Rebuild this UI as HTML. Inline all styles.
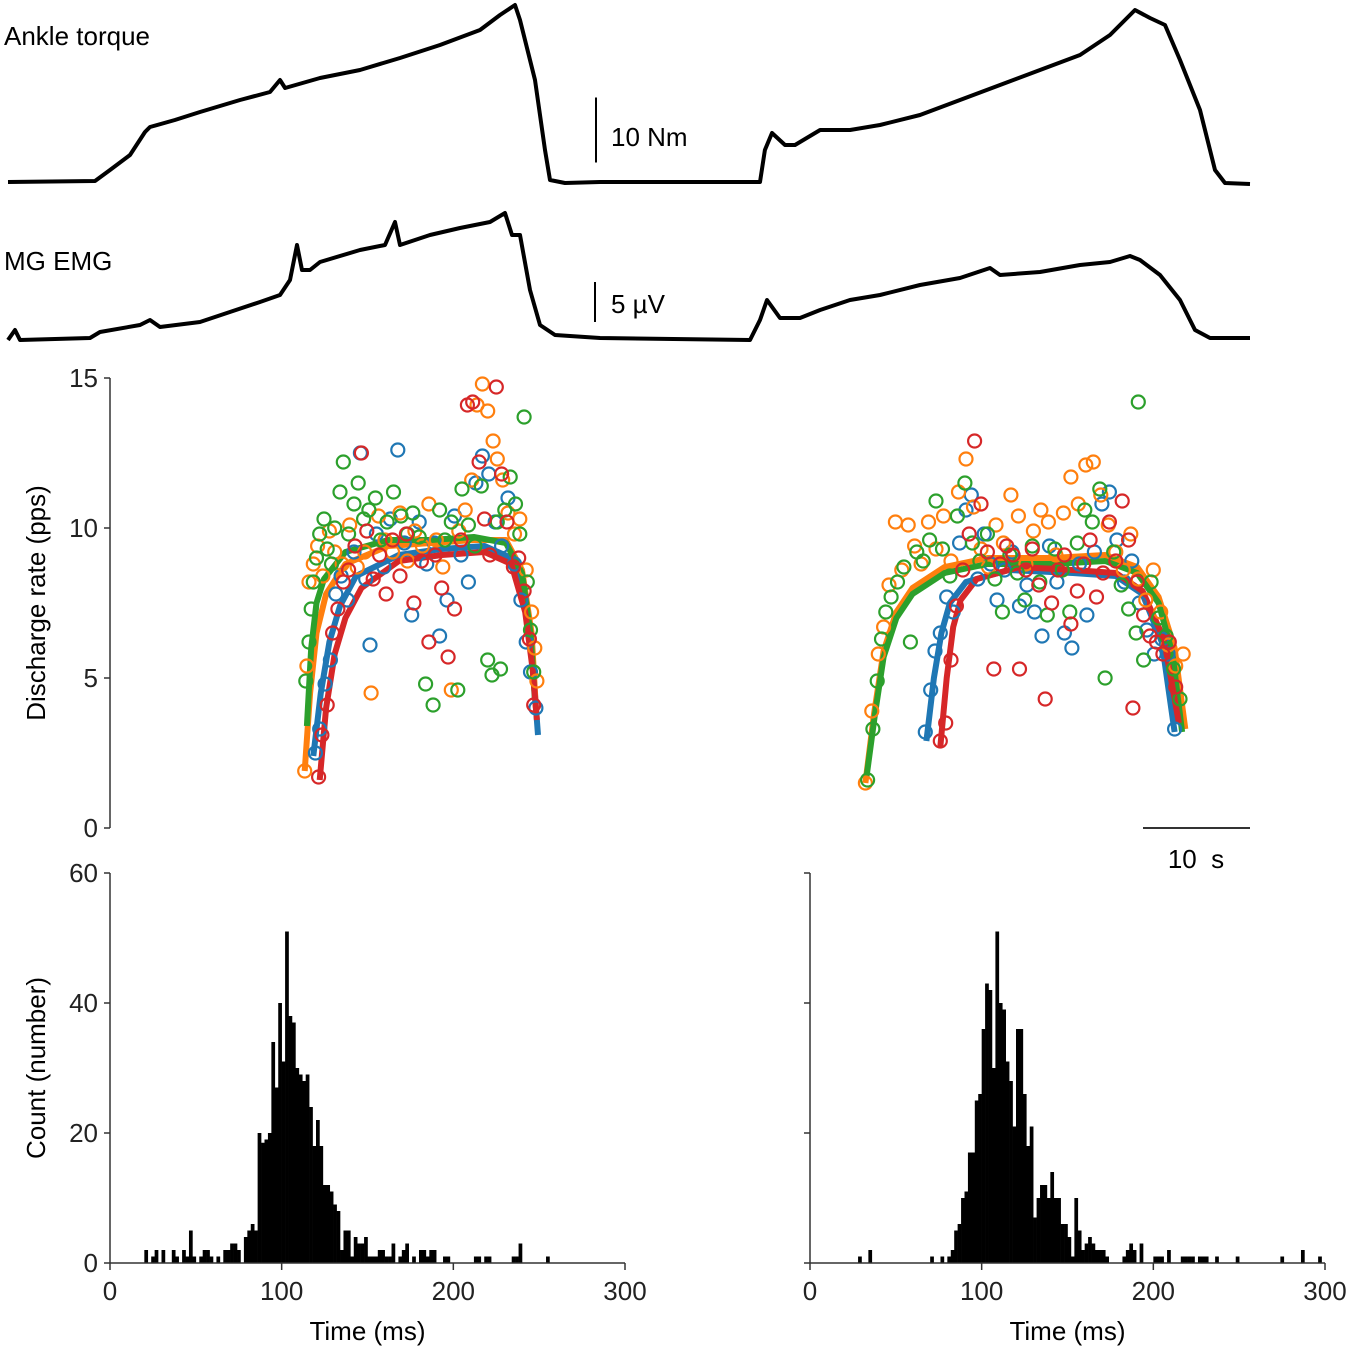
<!DOCTYPE html>
<html><head><meta charset="utf-8"><style>
html,body{margin:0;padding:0;background:#fff;}
svg{display:block;font-family:"Liberation Sans",Arial,sans-serif;}
</style></head><body>
<svg id="fig" width="1350" height="1350" viewBox="0 0 1350 1350" xmlns="http://www.w3.org/2000/svg">
<g id="traces"></g>
<g id="scatter"></g>
<g id="hists"></g>
</svg>
<script>
// ---------- trace data (time s, value) ----------
const torqueT=[-9.53,-1.40,0,1.87,3.27,3.74,6.07,8.41,12.15,14.95,15.89,16.36,19.63,23.36,27.10,30.84,34.58,36.45,37.85,38.32,39.72,40.65,41.12,42.52,45.79,60.75,61.21,61.87,63.08,64.02,66.36,69.16,71.96,75.70,79.44,83.18,86.92,90.65,93.46,95.79,97.20,98.60,100.0,101.87,103.27,104.21,106.54];
const torqueV=[0,0.15,1.85,4.15,7.69,8.46,9.54,10.77,12.62,13.85,15.69,14.46,16.0,17.23,19.08,21.08,23.38,25.69,27.23,24.92,15.69,4.92,0.31,-0.15,0,0,4.92,7.54,5.69,5.69,8.0,8.0,8.77,10.31,12.62,14.92,17.23,19.54,22.62,26.46,25.23,24.15,18.77,11.08,1.85,-0.15,-0.31];
const emgT=[-9.53,-8.88,-8.41,-1.87,-0.93,2.80,3.74,4.67,8.41,11.21,14.02,15.89,16.82,17.48,17.94,18.69,19.63,23.36,25.70,26.64,27.10,29.91,32.71,35.51,36.92,37.57,38.32,39.25,40.19,41.59,45.79,59.81,60.75,61.40,62.62,64.49,66.36,69.16,71.96,75.70,79.44,82.24,83.18,86.92,90.65,93.46,95.33,96.26,98.13,100.0,101.40,102.80,106.54];
const emgV=[0,1.25,0,0.25,1,1.88,2.5,1.63,2.25,3.5,4.75,5.63,7.5,11.88,8.75,8.75,9.75,11.25,11.88,14.75,11.88,13.13,14,14.75,15.88,13.13,13.13,6.25,1.88,0.63,0.25,0,2.5,5,2.75,2.75,3.75,5,5.63,6.88,7.75,9,8.13,8.5,9.38,9.75,10.5,10,8.13,5,1.25,0.25,0.25];

// ---------- discharge rate data [time s, rate pps] ----------
const blueL=[[19.2,2.5],[19.6,3.3],[20.1,4.8],[20.6,5.6],[21.1,7.8],[21.6,8.4],[22.2,7.6],[22.8,9.2],[23.4,12.5],[23.9,8.3],[24.3,6.1],[24.9,9.8],[25.6,8.7],[26.2,10.3],[26.9,12.6],[27.5,9.5],[28.2,7.1],[28.9,10.2],[29.6,8.8],[30.3,9.5],[30.8,6.4],[31.5,7.6],[32.2,10.4],[32.8,9.1],[33.5,8.2],[34.2,11.5],[34.8,12.4],[35.4,11.8],[36,10.2],[36.6,9.4],[37.2,11],[37.8,8.8],[38.4,7.6],[38.9,6.2],[39.3,5.2],[39.8,4]];
const orangeL=[[18.2,1.9],[18.4,5.4],[18.6,8.2],[19.0,8.8],[19.4,9.4],[19.9,8.4],[20.5,9.9],[21,9.2],[21.7,8.8],[22.4,10.1],[23.1,8.7],[23.8,9.2],[24.4,4.5],[25.1,10.4],[25.7,9.6],[26.4,9.2],[27.1,10.5],[27.8,8.9],[28.5,9.9],[29.2,9.4],[29.8,10.8],[30.5,9.6],[31.1,8.7],[31.9,4.6],[32.6,9.9],[33.2,10.6],[33.8,11.6],[34.3,14.1],[34.8,14.8],[35.3,13.9],[35.8,12.9],[36.2,12.3],[36.7,11.6],[37.2,10.5],[37.8,9.8],[38.3,10.3],[38.9,8.6],[39.4,7.2],[39.7,6],[39.9,4.9]];
const greenL=[[18.3,4.9],[18.6,6.2],[18.8,7.3],[19.0,8.2],[19.3,9.0],[19.6,9.8],[20,10.3],[20.3,9.3],[20.7,8.8],[21,10],[21.5,11.2],[21.8,12.2],[22.3,9.8],[22.8,10.8],[23.2,11.5],[23.7,10.3],[24.2,10.6],[24.8,11],[25.3,9.6],[25.9,10.2],[26.5,11.2],[27.2,10.4],[27.8,9.8],[28.3,10.5],[28.9,9.7],[29.5,4.8],[30.2,4.1],[30.8,10.6],[31.3,9.6],[31.9,10.2],[32.5,4.6],[32.9,11.3],[33.5,10.1],[34.1,9.4],[34.7,11.4],[35.3,5.6],[35.7,5.1],[36.2,10.2],[36.5,5.3],[36.9,10.6],[37.4,11.7],[37.9,10.8],[38.3,9.8],[38.7,13.7],[39.0,8.2],[39.3,6.6],[39.6,5.2]];
const redL=[[19.5,1.7],[19.8,3.1],[20.3,4.1],[20.8,6.5],[21.3,7.3],[21.8,8.2],[22.3,8.6],[22.9,9.4],[23.5,12.5],[24,9.9],[24.6,8.3],[25.2,9.1],[25.8,7.8],[26.4,9.6],[27.1,8.4],[27.7,9.8],[28.4,7.5],[29.1,8.9],[29.8,6.2],[30.4,9.1],[31,8.0],[31.6,5.7],[32.2,7.3],[32.8,9.6],[33.4,14.1],[33.9,14.2],[34.5,12.2],[35,10.3],[35.5,9.1],[36.1,14.7],[36.6,11.8],[37.1,10.2],[37.7,8.7],[38.2,9.0],[38.7,7.9],[39.2,6.3],[39.6,4.1]];
const blueR=[[76.2,3.2],[76.7,4.6],[77.1,5.9],[77.6,6.5],[78.2,7.7],[78.8,7.2],[79.4,9.5],[80.0,10.6],[80.5,11.1],[81.1,8.3],[81.7,9.8],[82.3,8.8],[82.9,7.6],[83.6,8.6],[84.3,9.2],[85.0,7.4],[85.7,8.1],[86.4,7.2],[87.1,6.4],[87.8,9.4],[88.5,8.2],[89.2,6.5],[89.9,6.0],[90.6,8.8],[91.3,7.1],[92.0,9.2],[92.7,10.8],[93.4,11.2],[94.1,9.6],[94.8,8.2],[95.5,8.9],[96.2,7.5],[96.9,6.6],[97.6,5.8],[98.3,6.3],[98.9,5.8],[99.5,3.3]];
const orangeR=[[70.6,1.5],[71.2,3.9],[71.8,5.8],[72.3,6.7],[72.8,8.1],[73.4,10.2],[74.0,8.6],[74.6,10.1],[75.2,9.4],[75.8,8.8],[76.5,10.2],[77.2,9.3],[77.9,10.4],[78.6,8.9],[79.3,11.2],[80.0,12.3],[80.7,10.7],[81.4,9.3],[82.1,8.7],[82.8,10.1],[83.5,9.5],[84.2,11.1],[84.9,10.4],[85.6,8.8],[86.3,9.9],[87.0,10.6],[87.7,10.2],[88.4,9.1],[89.1,10.5],[89.8,11.7],[90.5,10.8],[91.2,12.1],[91.9,12.2],[92.6,11.1],[93.3,10.1],[94.0,9.2],[94.7,8.6],[95.4,9.8],[96.1,8.3],[96.8,7.6],[97.5,8.6],[98.2,7.2],[98.9,6.1],[99.6,5.4],[100.3,5.8]];
const greenR=[[70.8,1.6],[71.3,3.3],[71.7,4.9],[72.1,6.3],[72.5,7.2],[73.0,7.7],[73.6,8.2],[74.2,8.7],[74.8,6.2],[75.4,9.2],[76.0,8.9],[76.6,9.6],[77.2,10.9],[77.8,9.3],[78.5,8.4],[79.2,10.4],[79.9,11.5],[80.6,9.5],[81.3,8.9],[82.0,9.8],[82.7,8.3],[83.4,7.2],[84.1,9.1],[84.8,8.5],[85.5,7.6],[86.2,9.4],[86.9,8.2],[87.6,7.1],[88.3,9.3],[89.0,8.6],[89.7,7.2],[90.4,9.5],[91.1,10.6],[91.8,10.2],[92.5,11.3],[93.0,5.0],[96.1,14.2],[93.8,9.2],[94.5,8.1],[95.2,7.3],[95.9,6.5],[96.6,5.6],[97.3,8.2],[98.0,7.0],[98.7,6.4],[99.4,5.3],[100.0,4.3]];
const redR=[[77.6,2.9],[78.1,3.5],[78.6,5.6],[79.1,7.4],[79.7,8.6],[80.3,9.8],[80.8,12.9],[81.4,10.8],[82.0,9.2],[82.6,5.3],[83.2,8.8],[83.8,9.4],[84.4,9.1],[85.0,5.3],[85.6,8.6],[86.2,9.3],[86.8,8.1],[87.4,4.3],[88.0,7.5],[88.6,8.6],[89.2,9.1],[89.8,6.8],[90.4,7.9],[91.0,8.8],[91.6,9.6],[92.2,7.7],[92.8,8.5],[93.4,10.2],[94.0,8.9],[94.6,10.9],[95.2,9.6],[95.6,4.0],[96.0,8.2],[96.6,7.1],[97.2,6.4],[97.8,6.2],[98.4,5.8],[99.0,6.2],[99.6,4.7]];
// fitted curves [time s, rate pps]
const fitGreenL=[[18.4,3.4],[18.8,6],[19.3,7.5],[20,8.3],[22,9.2],[26,9.6],[30,9.6],[34,9.7],[37,9.5],[38.5,8.5],[39.3,6.5],[39.7,4.3]];
const fitOrangeL=[[18.2,1.9],[18.7,4.5],[19.3,6.5],[20.2,7.8],[22,8.8],[26,9.4],[30,9.5],[34,9.6],[37,9.6],[38.5,8.6],[39.4,6.5],[39.8,4]];
const fitBlueL=[[19,2.4],[19.7,4.5],[20.5,6.2],[21.5,7.4],[23,8.4],[27,9.1],[31,9.3],[35,9.4],[37.5,9],[38.8,7.5],[39.5,5.5],[40,3.1]];
const fitRedL=[[19.6,1.6],[20.2,4],[21,5.8],[22,7],[23.5,8],[27,8.9],[31,9.1],[35,9.2],[37.5,8.8],[38.8,7.2],[39.5,5.3],[39.9,3.6]];
const fitGreenR=[[70.7,1.7],[71.5,3.8],[72.3,5.7],[73.5,7],[75,7.8],[78,8.5],[82,8.8],[88,8.8],[93,8.9],[96,8.5],[98,7.5],[99.3,5.8],[100.2,3.2]];
const fitOrangeR=[[70.6,1.5],[71.4,3.8],[72.3,5.9],[73.5,7.2],[75,8],[78,8.7],[82,9],[88,9],[93,9.1],[96,8.7],[98,7.7],[99.5,6],[100.5,3.3]];
const fitBlueR=[[76.3,2.9],[77,5],[77.7,6.5],[78.5,7.5],[80,8.2],[84,8.6],[90,8.5],[94,8.4],[96.5,7.8],[98.3,6.2],[99.5,3.2]];
const fitRedR=[[77.6,2.7],[78.2,5],[78.8,6.7],[79.5,7.6],[81,8.3],[85,8.7],[90,8.6],[94,8.5],[96.5,7.9],[98.5,6.3],[99.9,3.5]];
const rateTicks=[0,5,10,15];

// ---------- histogram data (2 ms bins: [bin index, count]) ----------
const histLeft=[[10,2],[12,1],[13,2],[15,2],[18,2],[19,1],[21,2],[22,1],[23,5],[24,1],[26,1],[27,2],[28,2],[29,1],[31,1],[33,2],[34,2],[35,3],[36,3],[37,2],[39,4],[40,5],[41,6],[42,5],[43,20],[44,18.5],[45,19],[46,20],[47,34],[48,27],[49,40],[50,31],[51,51],[52,38],[53,37],[54,30],[55,29],[56,28],[57,29],[58,24],[59,18],[60,22],[61,18],[62,12],[63,12],[64,11],[65,9],[66,8],[67,2],[68,5],[69,5],[70,1],[71,4],[72,3],[73,3],[74,4],[75,1],[76,1],[77,1],[78,2],[79,2],[80,1],[81,1],[82,3],[84,1],[85,2],[86,3],[88,1],[90,2],[91,2],[92,1],[93,2],[94,2],[97,1],[98,1],[106,1],[107,1],[109,1],[110,1],[117,1],[118,1],[119,3],[127,1]];
const histRight=[[14,1],[17,2],[35,1],[38,1],[40,1],[41,2],[42,5],[43,6],[44,10],[45,11],[46,17],[47,17],[48,25],[49,26],[50,36],[51,43],[52,42],[53,30],[54,51],[55,40],[56,39],[57,31],[58,28],[59,21],[60,36],[61,36],[62,26],[63,18],[64,21],[65,7],[66,10],[67,12],[68,12],[69,10],[70,14],[71,10],[72,10],[73,6],[74,6],[75,4],[76,1],[77,10],[78,5],[79,2],[80,3],[81,4],[82,3],[83,2],[84,2],[85,2],[86,1],[91,1],[92,2],[93,3],[94,2],[96,3],[100,1],[101,1],[102,1],[104,2],[108,1],[109,1],[110,1],[111,1],[113,1],[114,1],[115,1],[118,1],[124,1],[137,1],[143,2],[148,1]];
const countTicks=[0,20,40,60];
const timeTicks=[0,100,200,300];
const binWidth=2;

const NS="http://www.w3.org/2000/svg";
function mk(parent,tag,attrs){const e=document.createElementNS(NS,tag);for(const k in attrs)e.setAttribute(k,attrs[k]);parent.appendChild(e);return e;}

const tx=t=>110+t*10.7;
const torqueY=v=>182-v*6.5;
const emgY=v=>340-v*8;
const rateY=r=>828-r*30;

// traces
const tg=document.getElementById('traces');
function polyPts(T,V,fy){return T.map((t,i)=>tx(t).toFixed(1)+','+fy(V[i]).toFixed(1)).join(' ');}
let p=mk(tg,'polyline',{points:polyPts(torqueT,torqueV,torqueY),fill:'none',stroke:'#000','stroke-width':4,'stroke-linejoin':'round'});


p=mk(tg,'polyline',{points:polyPts(emgT,emgV,emgY),fill:'none',stroke:'#000','stroke-width':4,'stroke-linejoin':'round'});


let t=mk(tg,'text',{x:4,y:45,'font-size':26});t.textContent='Ankle torque';


t=mk(tg,'text',{x:4,y:270,'font-size':26});t.textContent='MG EMG';


let l=mk(tg,'line',{x1:596,x2:596,y1:torqueY(13),y2:torqueY(3),stroke:'#000','stroke-width':2});


t=mk(tg,'text',{x:611,y:146,'font-size':26});t.textContent='10 Nm';


l=mk(tg,'line',{x1:595,x2:595,y1:emgY(7.25),y2:emgY(2.25),stroke:'#000','stroke-width':2});


t=mk(tg,'text',{x:611,y:313,'font-size':26});t.textContent='5 \u00b5V';



// scatter panel
const sg=document.getElementById('scatter');
l=mk(sg,'line',{x1:110,x2:110,y1:rateY(15),y2:rateY(0),stroke:'#333','stroke-width':1.5});


rateTicks.forEach(v=>{
  const tk=mk(sg,'line',{x1:104,x2:110,y1:rateY(v),y2:rateY(v),stroke:'#333','stroke-width':1.5});
  
  
  const lb=mk(sg,'text',{x:98,y:rateY(v)+9,'font-size':26,'text-anchor':'end',fill:'#222'});lb.textContent=v;
  
  
});
t=mk(sg,'text',{x:0,y:0,'font-size':26,'text-anchor':'middle',transform:'translate(45,603) rotate(-90)'});t.textContent='Discharge rate (pps)';


const cols={blue:'#1f77b4',orange:'#ff7f0e',green:'#2ca02c',red:'#d62728'};
const fits=[[fitBlueL,'blue'],[fitOrangeL,'orange'],[fitGreenL,'green'],[fitRedL,'red'],[fitBlueR,'blue'],[fitOrangeR,'orange'],[fitGreenR,'green'],[fitRedR,'red']];
fits.forEach(([d,c])=>{
  const f=mk(sg,'polyline',{points:d.map(q=>tx(q[0]).toFixed(1)+','+rateY(q[1]).toFixed(1)).join(' '),fill:'none',stroke:cols[c],'stroke-width':6,'stroke-linejoin':'round'});
  
  
});
const series=[[blueL,'blue'],[blueR,'blue'],[orangeL,'orange'],[orangeR,'orange'],[greenL,'green'],[greenR,'green'],[redL,'red'],[redR,'red']];
series.forEach(([d,c])=>{
  d.forEach(q=>{
    const ci=mk(sg,'circle',{cx:tx(q[0]).toFixed(1),cy:rateY(q[1]).toFixed(1),r:6.5,fill:'none',stroke:cols[c],'stroke-width':2.2});
    
    
  });
});
l=mk(sg,'line',{x1:1143,x2:1250,y1:828,y2:828,stroke:'#333','stroke-width':2});


t=mk(sg,'text',{x:1196,y:868,'font-size':26,'text-anchor':'middle',style:'white-space:pre'});t.textContent='10  s';



// histograms
const hg=document.getElementById('hists');
const hy=c=>1263-c*6.5;
function hist(x0,data,labels,name){
  const hx=ms=>x0+ms*(515/300);
  data.forEach(b=>{
    const r=mk(hg,'rect',{x:hx(b[0]*binWidth).toFixed(2),y:hy(b[1]).toFixed(2),width:(hx(binWidth)-x0+0.3).toFixed(2),height:(b[1]*6.5).toFixed(2),fill:'#000'});
    
    
  });
  let a=mk(hg,'line',{x1:x0,x2:x0,y1:hy(60),y2:hy(0),stroke:'#333','stroke-width':1.5});
  
  
  a=mk(hg,'line',{x1:x0,x2:hx(300),y1:1263,y2:1263,stroke:'#333','stroke-width':1.5});
  
  
  countTicks.forEach(v=>{
    const tk=mk(hg,'line',{x1:x0-6,x2:x0,y1:hy(v),y2:hy(v),stroke:'#333','stroke-width':1.5});
    
    
    if(labels){
      const lb=mk(hg,'text',{x:x0-12,y:hy(v)+9,'font-size':26,'text-anchor':'end',fill:'#222'});lb.textContent=v;
      
      
    }
  });
  timeTicks.forEach(v=>{
    const tk=mk(hg,'line',{x1:hx(v),x2:hx(v),y1:1263,y2:1270,stroke:'#333','stroke-width':1.5});
    
    
    const lb=mk(hg,'text',{x:hx(v),y:1300,'font-size':26,'text-anchor':'middle',fill:'#222'});lb.textContent=v;
    
    
  });
  const xt=mk(hg,'text',{x:hx(150),y:1340,'font-size':26,'text-anchor':'middle'});xt.textContent='Time (ms)';
  
  
}
hist(110,histLeft,true,'histogram-left');
hist(810,histRight,false,'histogram-right');
t=mk(hg,'text',{x:0,y:0,'font-size':26,'text-anchor':'middle',transform:'translate(45,1068) rotate(-90)'});t.textContent='Count (number)';


</script>
</body></html>
